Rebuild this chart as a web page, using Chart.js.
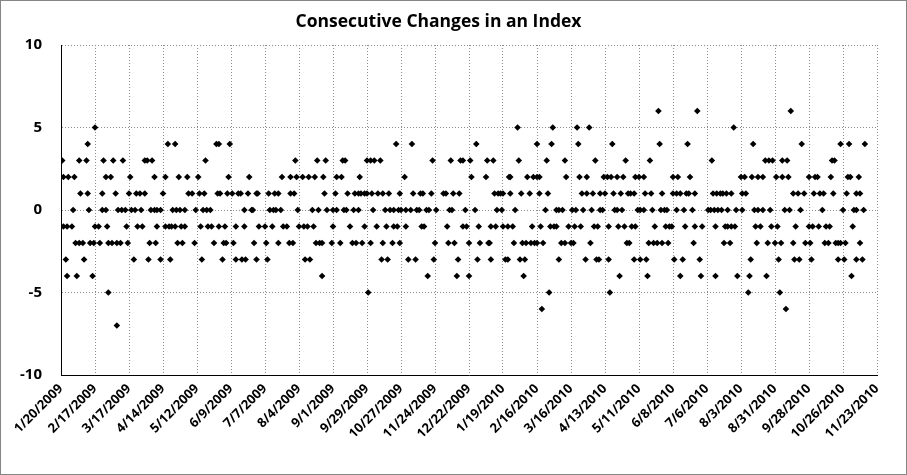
<!DOCTYPE html>
<html>
<head>
<meta charset="utf-8">
<title>Consecutive Changes in an Index</title>
<script src="https://cdn.jsdelivr.net/npm/chart.js@4.4.1/dist/chart.umd.min.js"></script>
<style>
  html, body { margin: 0; padding: 0; background: #fff; }
  #chart-wrap { position: relative; width: 907px; height: 475px; }
</style>
</head>
<body>
<div id="chart-wrap"><canvas id="index-changes-chart"></canvas></div>
<script>
// x values are day counts from the first date on the axis (1/20/2009)
const startDate = Date.UTC(2009, 0, 20);
const tickStepDays = 28;
const lastTickDay = 672; // 11/23/2010
const yMin = -10;
const yMax = 10;
const yStep = 5;

// Days on which each change value was seen
const daysAtPlus6 = [492, 524, 601];
const daysAtPlus5 = [28, 376, 405, 425, 435, 554];
const daysAtPlus4 = [22, 88, 94, 128, 130, 139, 276, 289, 342, 392, 404, 426, 454, 493, 516, 570, 610, 642, 649, 662];
const daysAtPlus3 = [1, 15, 21, 35, 43, 51, 69, 71, 75, 119, 193, 211, 218, 232, 234, 252, 255, 258, 263, 306,
  321, 329, 331, 337, 351, 356, 377, 400, 415, 440, 465, 485, 536, 580, 583, 586, 594, 598, 635, 637];
const daysAtPlus2 = [2, 6, 11, 37, 41, 57, 77, 86, 97, 104, 113, 138, 155, 182, 189, 194, 199, 204, 209, 216,
  227, 231, 246, 283, 338, 350, 369, 370, 384, 389, 392, 394, 416, 427, 433, 447, 450, 453, 458, 463,
  473, 476, 480, 504, 508, 518, 560, 563, 569, 574, 578, 589, 594, 599, 616, 621, 623, 634, 648, 650, 657];
const daysAtPlus1 = [16, 22, 34, 45, 56, 62, 65, 69, 84, 105, 108, 114, 118, 129, 131, 137, 141, 146, 148, 154,
  161, 162, 171, 176, 179, 189, 192, 217, 226, 236, 242, 245, 247, 250, 252, 256, 261, 265, 270, 279,
  290, 296, 298, 305, 315, 317, 323, 328, 357, 360, 362, 364, 370, 379, 386, 394, 401, 429, 433, 438,
  444, 448, 455, 461, 467, 469, 472, 481, 486, 495, 504, 507, 510, 515, 517, 522, 537, 540, 543, 545,
  548, 552, 561, 564, 603, 607, 612, 620, 625, 628, 636, 647, 655, 658];
const daysAtZero = [10, 23, 34, 37, 47, 50, 53, 58, 61, 66, 74, 77, 79, 82, 92, 95, 98, 102, 111, 117,
  120, 123, 151, 157, 158, 172, 175, 177, 181, 195, 207, 212, 219, 224, 227, 233, 235, 241, 245, 257,
  267, 271, 274, 278, 280, 284, 288, 293, 295, 301, 303, 309, 320, 322, 333, 341, 359, 363, 374, 399,
  408, 410, 413, 421, 424, 430, 437, 444, 446, 456, 458, 462, 475, 477, 480, 487, 494, 497, 499, 507,
  513, 520, 533, 535, 538, 541, 544, 549, 556, 561, 571, 574, 578, 584, 596, 600, 609, 627, 644, 653, 655, 661];
const daysAtMinus1 = [0, 2, 5, 9, 28, 31, 38, 54, 63, 67, 79, 86, 89, 91, 94, 99, 102, 115, 121, 124,
  130, 135, 144, 151, 163, 168, 174, 183, 186, 196, 200, 203, 208, 224, 238, 250, 260, 268, 274, 277,
  284, 297, 299, 318, 331, 334, 344, 354, 358, 364, 368, 372, 388, 395, 403, 406, 408, 418, 423, 428,
  439, 442, 451, 459, 464, 470, 473, 489, 498, 501, 503, 514, 522, 528, 539, 547, 549, 552, 555, 572,
  576, 585, 590, 605, 616, 619, 624, 630, 633, 652];
const daysAtMinus2 = [12, 15, 18, 24, 27, 32, 39, 42, 46, 49, 55, 73, 78, 96, 100, 110, 126, 134, 136, 142,
  159, 169, 179, 188, 191, 210, 213, 215, 223, 230, 240, 243, 248, 255, 265, 273, 279, 308, 319, 324,
  336, 345, 352, 353, 373, 380, 383, 387, 390, 392, 397, 412, 415, 420, 422, 436, 466, 468, 484, 488,
  491, 495, 500, 521, 546, 551, 573, 582, 588, 593, 603, 613, 617, 629, 632, 638, 640, 642, 646, 658];
const daysAtMinus3 = [4, 19, 60, 72, 82, 90, 116, 133, 144, 149, 152, 161, 170, 201, 205, 264, 269, 286, 292, 307,
  327, 343, 354, 366, 368, 378, 382, 410, 432, 441, 443, 451, 472, 477, 482, 505, 512, 526, 568, 591,
  604, 608, 618, 640, 645, 655, 660];
const daysAtMinus4 = [5, 13, 26, 215, 302, 326, 336, 381, 460, 483, 510, 527, 539, 557, 567, 581, 651];
const daysAtMinus5 = [39, 253, 402, 452, 566, 592];
const daysAtMinus6 = [396, 597];
const daysAtMinus7 = [46];

// value -> list of days
const levelTable = [
  [6, daysAtPlus6], [5, daysAtPlus5], [4, daysAtPlus4], [3, daysAtPlus3],
  [2, daysAtPlus2], [1, daysAtPlus1], [0, daysAtZero], [-1, daysAtMinus1],
  [-2, daysAtMinus2], [-3, daysAtMinus3], [-4, daysAtMinus4], [-5, daysAtMinus5],
  [-6, daysAtMinus6], [-7, daysAtMinus7]
];

function buildPoints() {
  const points = [];
  levelTable.forEach(function(row) {
    row[1].forEach(function(day) {
      points.push({ x: day, y: row[0] });
    });
  });
  points.sort(function(a, b) { return a.x - b.x; });
  return points;
}

// 0 -> "1/20/2009"
function formatDay(value) {
  const d = new Date(startDate + value * 86400000);
  return (d.getUTCMonth() + 1) + '/' + d.getUTCDate() + '/' + d.getUTCFullYear();
}

// white background + thin grey frame round the whole chart
const framePlugin = {
  id: 'frame',
  beforeDraw: function(chart) {
    const ctx = chart.ctx;
    ctx.save();
    ctx.fillStyle = '#ffffff';
    ctx.fillRect(0, 0, chart.width, chart.height);
    ctx.restore();
  },
  afterDraw: function(chart) {
    const ctx = chart.ctx;
    ctx.save();
    ctx.strokeStyle = '#868686';
    ctx.lineWidth = 1;
    ctx.strokeRect(0.5, 0.5, chart.width - 1, chart.height - 1);
    ctx.restore();
  }
};

const fontFamily = "'Open Sans', 'Liberation Sans', sans-serif";

new Chart(document.getElementById('index-changes-chart'), {
  type: 'scatter',
  data: {
    datasets: [{
      label: 'Change',
      data: buildPoints(),
      pointStyle: 'rectRot',
      pointRadius: 3.3,
      pointBorderWidth: 0,
      backgroundColor: '#000000',
      borderColor: '#000000'
    }]
  },
  options: {
    responsive: true,
    maintainAspectRatio: false,
    animation: false,
    layout: { padding: { left: 0, right: 30, top: 0, bottom: 0 } },
    plugins: {
      legend: { display: false },
      tooltip: { enabled: false },
      title: {
        display: true,
        text: 'Consecutive Changes in an Index',
        color: '#000000',
        font: { family: fontFamily, size: 17.5, weight: 'bold' },
        padding: { top: 12, bottom: 12 }
      }
    },
    scales: {
      x: {
        type: 'linear',
        min: 0,
        max: lastTickDay,
        afterFit: function(scale) { scale.height = 100; },
        // border.dash dots the grid lines; the axis line itself stays solid
        border: { display: true, color: '#000000', width: 1, dash: [1, 2] },
        grid: {
          color: '#8c8c8c',
          lineWidth: 1,
          drawTicks: false
        },
        ticks: {
          stepSize: tickStepDays,
          autoSkip: false,
          maxRotation: 45,
          minRotation: 45,
          padding: 6,
          color: '#000000',
          font: { family: fontFamily, size: 13, weight: 'bold' },
          callback: function(value) { return formatDay(value); }
        }
      },
      y: {
        min: yMin,
        max: yMax,
        afterFit: function(scale) { scale.width = 61; },
        border: { display: true, color: '#000000', width: 1, dash: [1, 2] },
        grid: {
          color: '#8c8c8c',
          lineWidth: 1,
          drawTicks: false
        },
        ticks: {
          stepSize: yStep,
          padding: 19,
          color: '#000000',
          font: { family: fontFamily, size: 15, weight: 'bold' }
        }
      }
    }
  },
  plugins: [framePlugin]
});
</script>
</body>
</html>
